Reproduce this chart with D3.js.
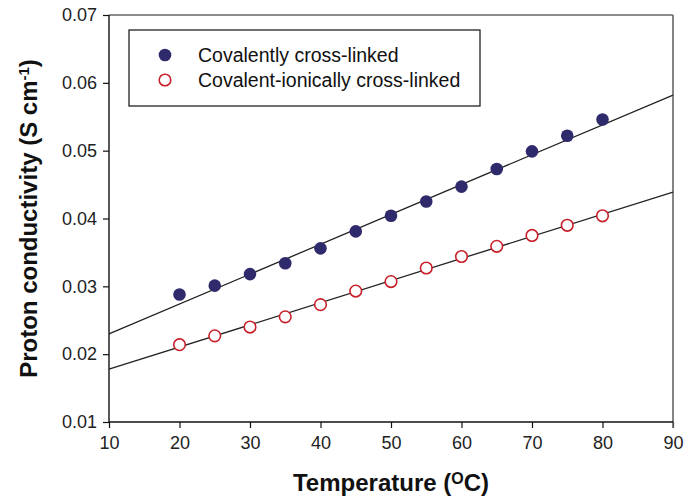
<!DOCTYPE html>
<html>
<head>
<meta charset="utf-8">
<style>
    body { margin: 0; background: #fff; }
    svg { font-family: 'Liberation Sans', Arial, sans-serif; }
    .tick text { font-size: 18px; fill: #222; }
    .axis .domain { display: none; }
    .axis .tick line { stroke: #111; stroke-width: 1.2; }
    .axis-title { font-size: 24px; font-weight: bold; fill: #111; }
    .legend-text { font-size: 19.5px; fill: #111; }
</style>
</head>
<body>
<svg width="700" height="497"></svg>
<script src="https://d3js.org/d3.v7.min.js"></script>
<script>
    // temperatures (oC)
    let temps = [20, 25, 30, 35, 40, 45, 50, 55, 60, 65, 70, 75, 80];
    // proton conductivity (S cm-1)
    let covalent = [0.0288, 0.0301, 0.0318, 0.0334, 0.0356, 0.0381, 0.0404, 0.0425, 0.0447, 0.0473, 0.0499, 0.0522, 0.0546];
    let ionic = [0.0214, 0.0227, 0.0240, 0.0255, 0.0273, 0.0293, 0.0307, 0.0327, 0.0344, 0.0359, 0.0375, 0.0390, 0.0404];
    // fitted lines, read at the ends of the axis
    let fitX = [10, 90];
    let covalentFit = [0.0230, 0.0582];
    let ionicFit = [0.0178, 0.0439];

    let xTicks = [10, 20, 30, 40, 50, 60, 70, 80, 90];
    let yTicks = [0.01, 0.02, 0.03, 0.04, 0.05, 0.06, 0.07];
    let seriesNames = ["Covalently cross-linked", "Covalent-ionically cross-linked"];

    let svg = d3.select("svg");
    let margin = { top: 15, right: 27, bottom: 75, left: 109 };
    let width = 700;
    let height = 497;

    let x = d3.scaleLinear()
        .domain([10, 90])
        .range([margin.left, width - margin.right]);

    let y = d3.scaleLinear()
        .domain([0.01, 0.07])
        .range([height - margin.bottom, margin.top]);

    let x0 = x.range()[0], x1 = x.range()[1];
    let y0 = y.range()[0], y1 = y.range()[1];

    // ticks
    svg.append("g")
        .attr("class", "x axis")
        .attr("transform", `translate(0,${y0})`)
        .call(d3.axisBottom(x).tickValues(xTicks).tickSize(6).tickPadding(8).tickFormat(d3.format("d")));

    svg.append("g")
        .attr("class", "y axis")
        .attr("transform", `translate(${x0},0)`)
        .call(d3.axisLeft(y).tickValues(yTicks).tickSize(6).tickPadding(6).tickFormat(d3.format(".2f")));

    // frame: top and right grey, left and bottom black
    svg.append("line").attr("x1", x0).attr("x2", x1).attr("y1", y1).attr("y2", y1)
        .attr("stroke", "#666").attr("stroke-width", 1.6);
    svg.append("line").attr("x1", x1).attr("x2", x1).attr("y1", y1).attr("y2", y0 + 6)
        .attr("stroke", "#666").attr("stroke-width", 1.6);
    svg.append("line").attr("x1", x0).attr("x2", x0).attr("y1", y1).attr("y2", y0)
        .attr("stroke", "#111").attr("stroke-width", 1.4);
    svg.append("line").attr("x1", x0).attr("x2", x1).attr("y1", y0).attr("y2", y0)
        .attr("stroke", "#111").attr("stroke-width", 1.4);

    // fit lines
    let line = d3.line().x(d => x(d[0])).y(d => y(d[1]));
    [covalentFit, ionicFit].forEach(fit => {
        svg.append("path")
            .datum(fitX.map((t, i) => [t, fit[i]]))
            .attr("d", line)
            .attr("fill", "none")
            .attr("stroke", "#222")
            .attr("stroke-width", 1.3);
    });

    // points
    svg.append("g").selectAll("circle")
        .data(temps.map((t, i) => [t, covalent[i]]))
        .join("circle")
        .attr("cx", d => x(d[0]))
        .attr("cy", d => y(d[1]))
        .attr("r", 6.3)
        .attr("fill", "#2f2a6c");

    svg.append("g").selectAll("circle")
        .data(temps.map((t, i) => [t, ionic[i]]))
        .join("circle")
        .attr("cx", d => x(d[0]))
        .attr("cy", d => y(d[1]))
        .attr("r", 5.8)
        .attr("fill", "#fff")
        .attr("stroke", "#c8202a")
        .attr("stroke-width", 1.6);

    // legend
    let legend = svg.append("g");
    legend.append("rect")
        .attr("x", 129).attr("y", 30)
        .attr("width", 351).attr("height", 76)
        .attr("fill", "#fff").attr("stroke", "#222").attr("stroke-width", 1.3);

    legend.append("circle").attr("cx", 165).attr("cy", 55).attr("r", 6.3).attr("fill", "#2f2a6c");
    legend.append("circle").attr("cx", 165).attr("cy", 80).attr("r", 5.8)
        .attr("fill", "#fff").attr("stroke", "#c8202a").attr("stroke-width", 1.6);

    seriesNames.forEach((name, i) => {
        legend.append("text")
            .attr("class", "legend-text")
            .attr("x", 198)
            .attr("y", 55 + i * 25)
            .attr("dy", "0.35em")
            .text(name);
    });

    // axis titles
    let xt = svg.append("text")
        .attr("class", "axis-title")
        .attr("x", (x0 + x1) / 2)
        .attr("y", 491)
        .attr("text-anchor", "middle");
    xt.append("tspan").text("Temperature (");
    xt.append("tspan").text("O").attr("font-size", 16).attr("baseline-shift", "7px");
    xt.append("tspan").text("C)");

    let yt = svg.append("text")
        .attr("class", "axis-title")
        .attr("transform", `translate(37,${(y0 + y1) / 2}) rotate(-90)`)
        .attr("text-anchor", "middle");
    yt.append("tspan").text("Proton conductivity (S cm");
    yt.append("tspan").text("-1").attr("font-size", 15).attr("baseline-shift", "8px");
    yt.append("tspan").text(")");
</script>
</body>
</html>
